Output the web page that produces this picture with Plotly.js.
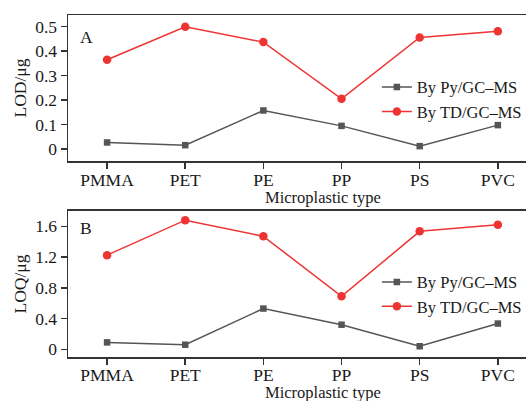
<!DOCTYPE html>
<html>
<head>
<meta charset="utf-8">
<script src="https://cdn.plot.ly/plotly-3.0.1.min.js"></script>
<style>
html,body{margin:0;padding:0;overflow:hidden;background:#fff;}
#chart{width:600px;height:401px;}
</style>
</head>
<body>
<div id="chart"></div>
<script>
const categories = ["PMMA", "PET", "PE", "PP", "PS", "PVC"];
const lodPy = [0.026, 0.015, 0.157, 0.094, 0.011, 0.097];
const lodTD = [0.365, 0.500, 0.437, 0.205, 0.456, 0.481];
const loqPy = [0.09, 0.06, 0.53, 0.32, 0.04, 0.335];
const loqTD = [1.225, 1.68, 1.47, 0.69, 1.535, 1.62];
const seriesNames = ["By Py/GC–MS", "By TD/GC–MS"];
const panelLabels = ["A", "B"];
const yTitles = ["LOD/μg", "LOQ/μg"];
const xTitle = "Microplastic type";

const gray = "#555555", red = "#ee3333";
const fam = "Liberation Serif, Times New Roman, serif";
const font = {family: fam, size: 17.5, color: "#1a1a1a"};
const tfont = {family: fam, size: 16.5, color: "#1a1a1a"};
const lfont = {family: fam, size: 16.5, color: "#1a1a1a"};

function tr(x, y, name, color, symbol, xa, ya, lg) {
  return {x: x, y: y, name: name, type: "scatter", mode: "lines+markers",
    xaxis: xa, yaxis: ya, legend: lg,
    line: {color: color, width: 1.5},
    marker: {color: color, symbol: symbol, size: symbol === "circle" ? 8.5 : 6.5}};
}
const data = [
  tr(categories, lodPy, seriesNames[0], gray, "square", "x", "y", "legend"),
  tr(categories, lodTD, seriesNames[1], red, "circle", "x", "y", "legend"),
  tr(categories, loqPy, seriesNames[0], gray, "square", "x2", "y2", "legend2"),
  tr(categories, loqTD, seriesNames[1], red, "circle", "x2", "y2", "legend2")
];

const axisCommon = {showline: true, linecolor: "#333", linewidth: 1.5, mirror: true,
  ticks: "outside", ticklen: 6, tickcolor: "#333", tickwidth: 1.5,
  showgrid: false, zeroline: false, tickfont: font};

const layout = {
  width: 600, height: 401,
  margin: {l: 68, r: 24, t: 15, b: 44},
  paper_bgcolor: "#fff", plot_bgcolor: "#fff",
  font: font,
  showlegend: true,
  xaxis: Object.assign({}, axisCommon, {domain: [0, 1], anchor: "y", range: [-0.5, 6.0],
    ticklabelstandoff: -4}),
  yaxis: Object.assign({}, axisCommon, {domain: [0.573, 1], anchor: "x", range: [-0.05, 0.548],
    dtick: 0.1, tick0: 0, title: {text: yTitles[0], font: font, standoff: 4}}),
  xaxis2: Object.assign({}, axisCommon, {domain: [0, 1], anchor: "y2", range: [-0.5, 6.0],
    ticklabelstandoff: -5}),
  yaxis2: Object.assign({}, axisCommon, {domain: [0, 0.427], anchor: "x2", range: [-0.1, 1.8],
    dtick: 0.4, tick0: 0, title: {text: yTitles[1], font: font, standoff: 4}}),
  legend: {x: 0.608, y: 0.84, xref: "paper", yref: "paper", xanchor: "left", yanchor: "top",
    bgcolor: "rgba(0,0,0,0)", font: lfont, tracegroupgap: 0},
  legend2: {x: 0.608, y: 0.27, xref: "paper", yref: "paper", xanchor: "left", yanchor: "top",
    bgcolor: "rgba(0,0,0,0)", font: lfont, tracegroupgap: 0},
  annotations: [
    {text: panelLabels[0], xref: "x domain", yref: "y domain", x: 0.02, y: 0.85,
      xanchor: "left", yanchor: "middle", showarrow: false, font: font},
    {text: panelLabels[1], xref: "x2 domain", yref: "y2 domain", x: 0.02, y: 0.88,
      xanchor: "left", yanchor: "middle", showarrow: false, font: font},
    {text: xTitle, xref: "x domain", yref: "paper", x: 0.502, y: 0.466,
      xanchor: "center", yanchor: "middle", showarrow: false, font: tfont},
    {text: xTitle, xref: "x2 domain", yref: "paper", x: 0.502, y: -0.104,
      xanchor: "center", yanchor: "middle", showarrow: false, font: tfont}
  ]
};

Plotly.newPlot("chart", data, layout, {displayModeBar: false, staticPlot: true});
</script>
</body>
</html>
